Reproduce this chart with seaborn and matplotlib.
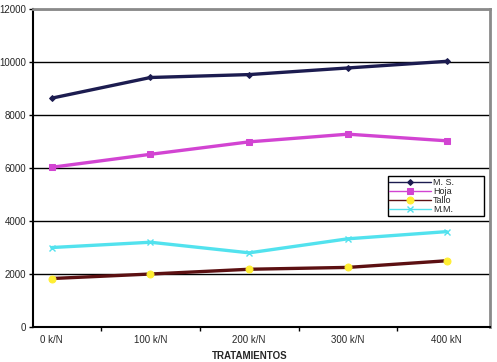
import matplotlib
matplotlib.use("Agg")
import matplotlib.pyplot as plt
import seaborn as sns
import pandas as pd

# data
tratamientos = ["0 k/N", "100 k/N", "200 k/N", "300 k/N", "400 kN"]
ms = [8640, 9420, 9530, 9780, 10030]
hoja = [6030, 6520, 6990, 7280, 7030]
tallo = [1830, 2000, 2180, 2250, 2500]
mm = [3000, 3200, 2800, 3330, 3600]

df = pd.DataFrame({
    "pos": list(range(len(tratamientos))) * 4,
    "valor": ms + hoja + tallo + mm,
    "serie": ["M. S."] * 5 + ["Hoja"] * 5 + ["Tallo"] * 5 + ["M.M."] * 5,
})

sns.set_style("white")
plt.rcParams["font.family"] = ["Liberation Sans", "DejaVu Sans"]

fig = plt.figure(figsize=(4.97, 3.62), dpi=100)
ax = fig.add_axes([0.0664, 0.0967, 0.9195, 0.878])

styles = {
    "M. S.": dict(color="#1c1c50", marker="D", markersize=3, markerfacecolor="#1c1c50", markeredgecolor="#1c1c50"),
    "Hoja": dict(color="#d244d2", marker="s", markersize=5, markerfacecolor="#d244d2", markeredgecolor="#d244d2"),
    "Tallo": dict(color="#5c1012", marker="o", markersize=5, markerfacecolor="#ffee33", markeredgecolor="#ffee33"),
    "M.M.": dict(color="#52e2ee", marker="x", markersize=5, markeredgecolor="#52e2ee", markeredgewidth=1),
}
for name, st in styles.items():
    sub = df[df["serie"] == name]
    sns.lineplot(data=sub, x="pos", y="valor", ax=ax, linewidth=2.4, label=name, **st)

ax.set_ylim(0, 12000)
ax.set_xlim(-0.19, 4.44)
ax.set_yticks(range(0, 12001, 2000))
ax.set_yticklabels([str(v) for v in range(0, 12001, 2000)], fontsize=7)
ax.set_xticks(range(5))
ax.set_xticklabels(tratamientos, fontsize=7)
ax.set_xticks([0.5, 1.5, 2.5, 3.5], minor=True)
ax.tick_params(axis="x", which="major", length=0, pad=6)
ax.tick_params(axis="x", which="minor", length=3, width=1, color="black", direction="out", bottom=True)
ax.tick_params(axis="y", length=3, width=1, color="black", direction="out", pad=2, left=True)

ax.yaxis.grid(True, color="black", linewidth=1)
ax.set_axisbelow(True)

ax.spines["left"].set_color("black")
ax.spines["left"].set_linewidth(1.5)
ax.spines["bottom"].set_color("black")
ax.spines["bottom"].set_linewidth(1.5)
ax.spines["top"].set_color("#8a8a8a")
ax.spines["top"].set_linewidth(2)
ax.spines["right"].set_color("#8a8a8a")
ax.spines["right"].set_linewidth(2)

ax.set_xlabel("TRATAMIENTOS", fontsize=7, fontweight="bold")
ax.xaxis.set_label_coords(0.475, -0.075)
ax.set_ylabel("")

leg = ax.legend(loc="upper left", bbox_to_anchor=(0.776, 0.355, 0.21, 0.12), mode="expand",
                fontsize=6.5, frameon=True, fancybox=False, edgecolor="black", framealpha=1,
                handlelength=4.6, handletextpad=0.2, labelspacing=0.0,
                borderpad=0.2, borderaxespad=0)
leg.get_frame().set_linewidth(1)
for line in leg.get_lines():
    line.set_linewidth(1)

fig.savefig("out.png", dpi=100)
